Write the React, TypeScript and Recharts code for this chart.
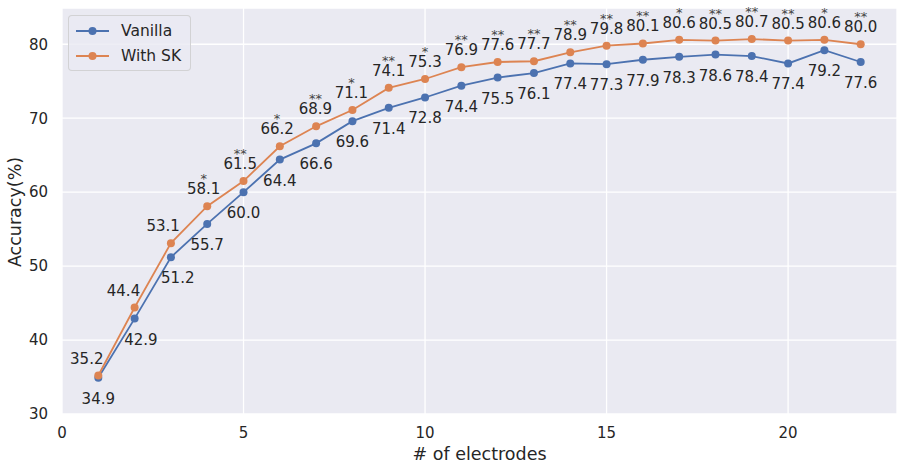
import { LineChart, Line, XAxis, YAxis, CartesianGrid, LabelList } from "recharts";

const electrodes = [1, 2, 3, 4, 5, 6, 7, 8, 9, 10, 11, 12, 13, 14, 15, 16, 17, 18, 19, 20, 21, 22];
const vanilla = [34.9, 42.9, 51.2, 55.7, 60.0, 64.4, 66.6, 69.6, 71.4, 72.8, 74.4, 75.5, 76.1, 77.4, 77.3, 77.9, 78.3, 78.6, 78.4, 77.4, 79.2, 77.6];
const withSK = [35.2, 44.4, 53.1, 58.1, 61.5, 66.2, 68.9, 71.1, 74.1, 75.3, 76.9, 77.6, 77.7, 78.9, 79.8, 80.1, 80.6, 80.5, 80.7, 80.5, 80.6, 80.0];
const significance = ["", "", "", "*", "**", "*", "**", "*", "**", "*", "**", "**", "**", "**", "**", "**", "*", "**", "**", "**", "*", "**"];
const xTicks = [0, 5, 10, 15, 20];
const yTicks = [30, 40, 50, 60, 70, 80];

const BLUE = "#4C72B0";
const ORANGE = "#DD8452";
const TEXT = "#262626";
const FONT = "DejaVu Sans";

const data = electrodes.map((e, i) => ({ electrodes: e, vanilla: vanilla[i], withSK: withSK[i] }));

// labels on the steep part get pushed sideways a bit, like adjustText did
function skShift(i: number) {
  const lo = Math.max(0, i - 1);
  const hi = Math.min(withSK.length - 1, i + 1);
  const slope = (withSK[hi] - withSK[lo]) / (hi - lo);
  return -1.6 * Math.max(0, slope - 2);
}

function vanillaShift(i: number) {
  const rise = i > 0 ? vanilla[i] - vanilla[i - 1] : 0;
  return 1.8 * Math.max(0, rise - 4.5);
}

function SKLabel(props: any) {
  const { x, y, value, index } = props;
  const dx = skShift(index);
  return (
    <g>
      <text x={x + dx} y={y - 12} textAnchor="middle" fill={TEXT} fontSize={15} fontFamily={FONT}>
        {Number(value).toFixed(1)}
      </text>
      {significance[index] && (
        <text x={x + dx} y={y - 23} textAnchor="middle" fill="#444" fontSize={13} fontFamily={FONT}>
          {significance[index]}
        </text>
      )}
    </g>
  );
}

function VanillaLabel(props: any) {
  const { x, y, value, index } = props;
  return (
    <text x={x + vanillaShift(index)} y={y + 26} textAnchor="middle" fill={TEXT} fontSize={15} fontFamily={FONT}>
      {Number(value).toFixed(1)}
    </text>
  );
}

function LegendRow({ color, label, top }: { color: string; label: string; top: number }) {
  return (
    <div style={{ position: "absolute", left: 0, top, height: 20, display: "flex", alignItems: "center" }}>
      <svg width={48} height={20}>
        <line x1={7} y1={10} x2={40} y2={10} stroke={color} strokeWidth={2} />
        <circle cx={23.5} cy={10} r={4} fill={color} />
      </svg>
      <span style={{ marginLeft: 4, fontSize: 15.5, color: TEXT, fontFamily: FONT }}>{label}</span>
    </div>
  );
}

export default function App() {
  return (
    <div style={{ position: "absolute", left: 0, top: 0, width: 903, height: 471, fontFamily: FONT }}>
      <LineChart width={903} height={471} data={data} margin={{ top: 8, right: 6, left: 0, bottom: 0 }}>
        <CartesianGrid fill="#EAEAF2" stroke="#FFFFFF" strokeWidth={1.3} />
        <XAxis
          type="number"
          dataKey="electrodes"
          domain={[0, 23]}
          ticks={xTicks}
          allowDataOverflow
          height={57}
          axisLine={false}
          tickLine={false}
          tickSize={0}
          tickMargin={13}
          tick={{ fill: TEXT, fontSize: 15, fontFamily: FONT }}
          label={{
            content: () => (
              <text x={479.5} y={460} textAnchor="middle" fill={TEXT} fontSize={17.5} fontFamily={FONT}>
                # of electrodes
              </text>
            ),
          }}
        />
        <YAxis
          type="number"
          domain={[30, 84.9]}
          ticks={yTicks}
          allowDataOverflow
          width={62}
          axisLine={false}
          tickLine={false}
          tickSize={0}
          tickMargin={14}
          tick={{ fill: TEXT, fontSize: 15, fontFamily: FONT }}
          label={{
            content: () => (
              <text
                x={21}
                y={212}
                transform="rotate(-90 21 212)"
                textAnchor="middle"
                fill={TEXT}
                fontSize={17.5}
                fontFamily={FONT}
              >
                Accuracy(%)
              </text>
            ),
          }}
        />
        <Line
          type="linear"
          dataKey="vanilla"
          stroke={BLUE}
          strokeWidth={1.8}
          dot={{ r: 4, fill: BLUE, stroke: BLUE, strokeWidth: 0 }}
          activeDot={false}
          isAnimationActive={false}
        >
          <LabelList dataKey="vanilla" content={VanillaLabel} />
        </Line>
        <Line
          type="linear"
          dataKey="withSK"
          stroke={ORANGE}
          strokeWidth={1.8}
          dot={{ r: 4, fill: ORANGE, stroke: ORANGE, strokeWidth: 0 }}
          activeDot={false}
          isAnimationActive={false}
        >
          <LabelList dataKey="withSK" content={SKLabel} />
        </Line>
      </LineChart>
      <div
        style={{
          position: "absolute",
          left: 68,
          top: 15,
          width: 121,
          height: 54,
          border: "1px solid rgba(204,204,204,0.8)",
          borderRadius: 4,
          background: "rgba(234,234,242,0.8)",
        }}
      >
        <LegendRow color={BLUE} label="Vanilla" top={4.5} />
        <LegendRow color={ORANGE} label="With SK" top={29.5} />
      </div>
    </div>
  );
}
